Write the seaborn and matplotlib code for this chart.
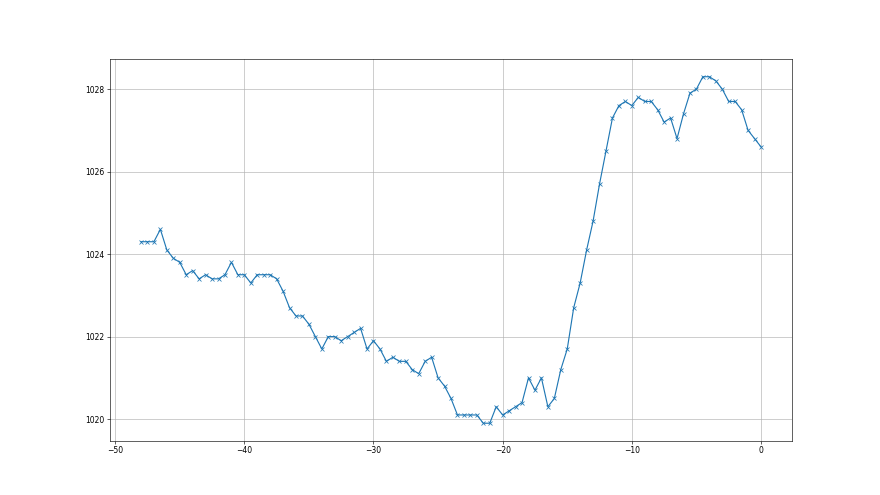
import numpy as np
import pandas as pd
import matplotlib
matplotlib.use("Agg")
import matplotlib.pyplot as plt
import seaborn as sns

hours = np.arange(-48.0, 0.5, 0.5)
pressure = [
    1024.3, 1024.3, 1024.3, 1024.6, 1024.1, 1023.9, 1023.8, 1023.5, 1023.6, 1023.4,
    1023.5, 1023.4, 1023.4, 1023.5, 1023.8, 1023.5, 1023.5, 1023.3, 1023.5, 1023.5,
    1023.5, 1023.4, 1023.1, 1022.7, 1022.5, 1022.5, 1022.3, 1022.0, 1021.7, 1022.0,
    1022.0, 1021.9, 1022.0, 1022.1, 1022.2, 1021.7, 1021.9, 1021.7, 1021.4, 1021.5,
    1021.4, 1021.4, 1021.2, 1021.1, 1021.4, 1021.5, 1021.0, 1020.8, 1020.5, 1020.1,
    1020.1, 1020.1, 1020.1, 1019.9, 1019.9, 1020.3, 1020.1, 1020.2, 1020.3, 1020.4,
    1021.0, 1020.7, 1021.0, 1020.3, 1020.5, 1021.2, 1021.7, 1022.7, 1023.3, 1024.1,
    1024.8, 1025.7, 1026.5, 1027.3, 1027.6, 1027.7, 1027.6, 1027.8, 1027.7, 1027.7,
    1027.5, 1027.2, 1027.3, 1026.8, 1027.4, 1027.9, 1028.0, 1028.3, 1028.3, 1028.2,
    1028.0, 1027.7, 1027.7, 1027.5, 1027.0, 1026.8, 1026.6,
]

df = pd.DataFrame({"hours": hours, "pressure": pressure})

fig, ax = plt.subplots(figsize=(16, 9), dpi=55)
sns.lineplot(data=df, x="hours", y="pressure", ax=ax, color="#1f77b4",
             marker="x", markersize=6, markeredgecolor="#1f77b4",
             markeredgewidth=1.0, linewidth=1.5)
ax.grid(True, color="#b0b0b0", linewidth=0.8)
ax.set_axisbelow(True)
ax.set_xlabel("")
ax.set_ylabel("")
ax.set_yticks([1020, 1022, 1024, 1026, 1028])
ax.set_xticks([-50, -40, -30, -20, -10, 0])
ax.tick_params(labelsize=10)
fig.savefig("out.png", dpi=55)
